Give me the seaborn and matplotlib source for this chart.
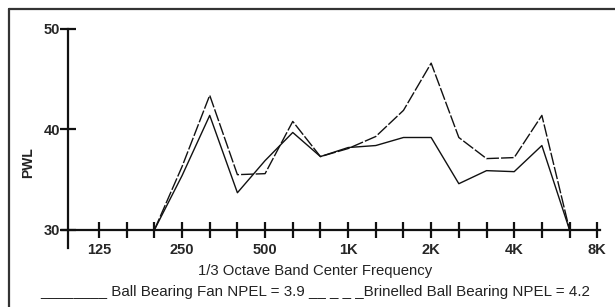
import matplotlib
matplotlib.use("Agg")
import matplotlib.pyplot as plt
import pandas as pd
import seaborn as sns
from matplotlib.lines import Line2D

# 1/3 octave bands, index 0 = 125 Hz ... 18 = 8K
bands = ["125", "160", "200", "250", "315", "400", "500", "630", "800", "1K",
         "1.25K", "1.6K", "2K", "2.5K", "3.15K", "4K", "5K", "6.3K", "8K"]
labelled = ["125", "250", "500", "1K", "2K", "4K", "8K"]

# readings start at 200 Hz and end at 6.3K
fan_bands = bands[2:18]
fan_pwl = [30.0, 35.4, 41.4, 33.7, 36.9, 39.7, 37.3, 38.2, 38.4, 39.2,
           39.2, 34.6, 35.9, 35.8, 38.4, 30.0]
brinelled_pwl = [30.0, 36.3, 43.4, 35.5, 35.6, 40.8, 37.3, 38.1, 39.3, 41.9,
                 46.6, 39.2, 37.1, 37.2, 41.4, 30.0]

df = pd.DataFrame({
    "band": fan_bands,
    "pos": [bands.index(b) for b in fan_bands],
    "fan": fan_pwl,
    "brinelled": brinelled_pwl,
})

sns.set_style("white")
plt.rcParams["font.family"] = ["Liberation Sans", "DejaVu Sans"]

fig = plt.figure(figsize=(6.15, 3.07), dpi=100)
ax = fig.add_axes([68 / 615, 59 / 307, 532 / 615, 219 / 307])

sns.lineplot(data=df, x="pos", y="fan", ax=ax, color="#111111", lw=1.0)
sns.lineplot(data=df, x="pos", y="brinelled", ax=ax, color="#111111", lw=1.0,
             dashes=False, linestyle=(0, (9, 1.5)))

ax.set_xlim(-1.12, 18.1)
ax.set_ylim(28.2, 50)

for s in ["top", "right"]:
    ax.spines[s].set_visible(False)
ax.spines["bottom"].set_position(("data", 30))
ax.spines["bottom"].set_bounds(-1.34, 18.1)
ax.spines["left"].set_bounds(28.2, 50)
for s in ["bottom", "left"]:
    ax.spines[s].set_linewidth(1.6)
    ax.spines[s].set_color("#111111")

ax.set_xticks(range(len(bands)))
ax.set_xticklabels([b if b in labelled else "" for b in bands],
                   fontweight="bold", fontsize=10.5)
ax.set_yticks([30, 40, 50])
ax.set_yticklabels(["30", "40", "50"], fontweight="bold", fontsize=10.5)
ax.tick_params(axis="x", bottom=True, direction="inout", length=11, width=1.6,
               pad=4, color="#111111")
ax.tick_params(axis="y", left=True, direction="inout", length=11, width=1.6,
               pad=0, color="#111111")
ax.set_xlabel("")
ax.set_ylabel("")

fig.text(315 / 615, 1 - 271 / 307, "1/3 Octave Band Center Frequency",
         ha="center", va="center", fontsize=10.7, color="#222222")
fig.text(28 / 615, 1 - 163 / 307, "PWL", rotation=90, ha="center",
         va="center", fontsize=10, fontweight="bold", color="#222222")
fig.text(40 / 615, 1 - 292 / 307,
         "________ Ball Bearing Fan NPEL = 3.9 __ _ _ _Brinelled Ball Bearing NPEL = 4.2",
         ha="left", va="center", fontsize=10.9, color="#222222")

# frame around the chart
fig.add_artist(Line2D([9 / 615, 9 / 615], [0, 1 - 9 / 307],
                      transform=fig.transFigure, color="#333333", lw=1.6))
fig.add_artist(Line2D([9 / 615, 1], [1 - 9 / 307, 1 - 9 / 307],
                      transform=fig.transFigure, color="#333333", lw=1.6))

fig.savefig("out.png", dpi=100)
